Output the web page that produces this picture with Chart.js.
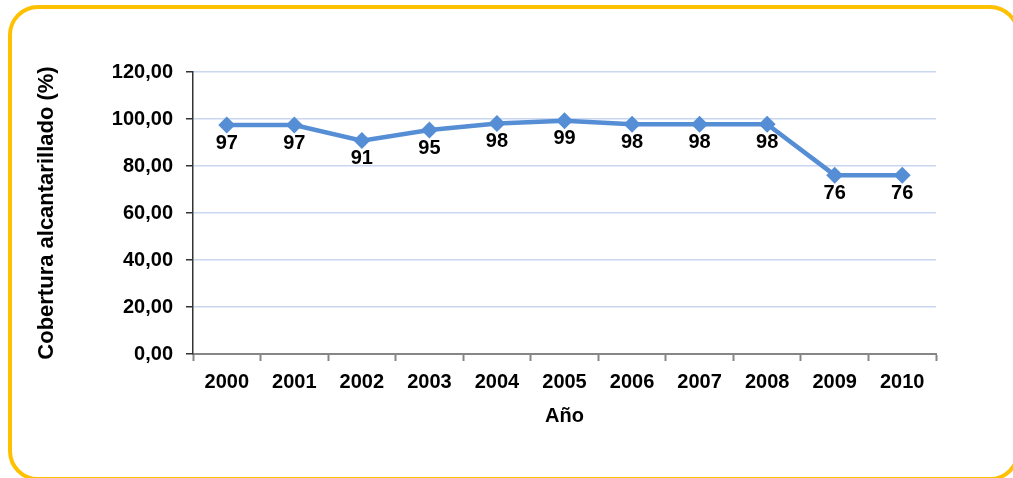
<!DOCTYPE html>
<html>
<head>
<meta charset="utf-8">
<script src="https://cdn.jsdelivr.net/npm/chart.js@4.4.1/dist/chart.umd.min.js"></script>
<style>
  html, body { margin: 0; padding: 0; background: #fff; }
  #wrap { position: relative; width: 1013px; height: 478px; overflow: hidden; }
  #frame {
    position: absolute; left: 8px; top: 5px; width: 1012px; height: 476px;
    border: 4px solid #FFC000; border-radius: 30px; box-sizing: border-box;
  }
  canvas { position: absolute; left: 0; top: 0; }
</style>
</head>
<body>
<div id="wrap">
  <div id="frame"></div>
  <canvas id="chart" width="1013" height="478"></canvas>
</div>
<script>
// Chart data
var years = ['2000', '2001', '2002', '2003', '2004', '2005', '2006', '2007', '2008', '2009', '2010'];
var coverage = [97.4, 97.4, 90.8, 95.3, 98.1, 99.3, 97.8, 97.8, 97.8, 76.1, 76.1];
var pointLabels = ['97', '97', '91', '95', '98', '99', '98', '98', '98', '76', '76'];
var yTicks = [0, 20, 40, 60, 80, 100, 120];

var FONT = 'Liberation Sans, Arial, sans-serif';

// Simple value labels under each point
var valueLabels = {
    id: 'valueLabels',
    afterDatasetsDraw: function(chart) {
        var ctx = chart.ctx;
        var meta = chart.getDatasetMeta(0);
        ctx.save();
        ctx.font = 'bold 20px ' + FONT;
        ctx.fillStyle = '#000';
        ctx.textAlign = 'center';
        ctx.textBaseline = 'middle';
        meta.data.forEach(function(pt, i) {
            ctx.fillText(pointLabels[i], pt.x, pt.y + 18);
        });
        ctx.restore();
    }
};

new Chart(document.getElementById('chart').getContext('2d'), {
    type: 'line',
    data: {
        labels: years,
        datasets: [{
            data: coverage,
            borderColor: '#558ED5',
            backgroundColor: '#558ED5',
            borderWidth: 4.5,
            pointStyle: 'rectRot',
            pointRadius: 8.5,
            pointBorderWidth: 0,
            tension: 0
        }]
    },
    options: {
        responsive: false,
        animation: false,
        layout: { padding: { left: 30, top: 72, right: 77, bottom: 46 } },
        plugins: {
            legend: { display: false },
            tooltip: { enabled: false }
        },
        scales: {
            x: {
                offset: true,
                afterFit: function(scale) { scale.height = 78; },
                grid: {
                    offset: true,
                    drawOnChartArea: false,
                    drawTicks: true,
                    tickLength: 7,
                    tickColor: '#868686',
                    tickWidth: 2
                },
                border: { color: '#868686', width: 2 },
                ticks: {
                    color: '#000',
                    padding: 9,
                    font: { family: FONT, size: 20, weight: 'bold' }
                },
                title: {
                    display: true,
                    text: 'Año',
                    color: '#000',
                    padding: { top: 0, bottom: 4 },
                    font: { family: FONT, size: 20, weight: 'bold' }
                }
            },
            y: {
                min: 0,
                max: 120,
                afterFit: function(scale) { scale.width = 163; },
                afterBuildTicks: function(scale) {
                    scale.ticks = yTicks.map(function(v) { return { value: v }; });
                },
                grid: {
                    color: '#C9D6F0',
                    lineWidth: 1.5,
                    tickLength: 7,
                    tickColor: '#333',
                    tickWidth: 1.5
                },
                border: { color: '#333', width: 1.5 },
                ticks: {
                    color: '#000',
                    padding: 13,
                    font: { family: FONT, size: 20, weight: 'bold' },
                    callback: function(v) { return v.toFixed(2).replace('.', ','); }
                },
                title: {
                    display: true,
                    text: 'Cobertura alcantarillado (%)',
                    color: '#000',
                    padding: { top: 4, bottom: 0 },
                    font: { family: FONT, size: 22, weight: 'bold' }
                }
            }
        }
    },
    plugins: [valueLabels]
});
</script>
</body>
</html>
